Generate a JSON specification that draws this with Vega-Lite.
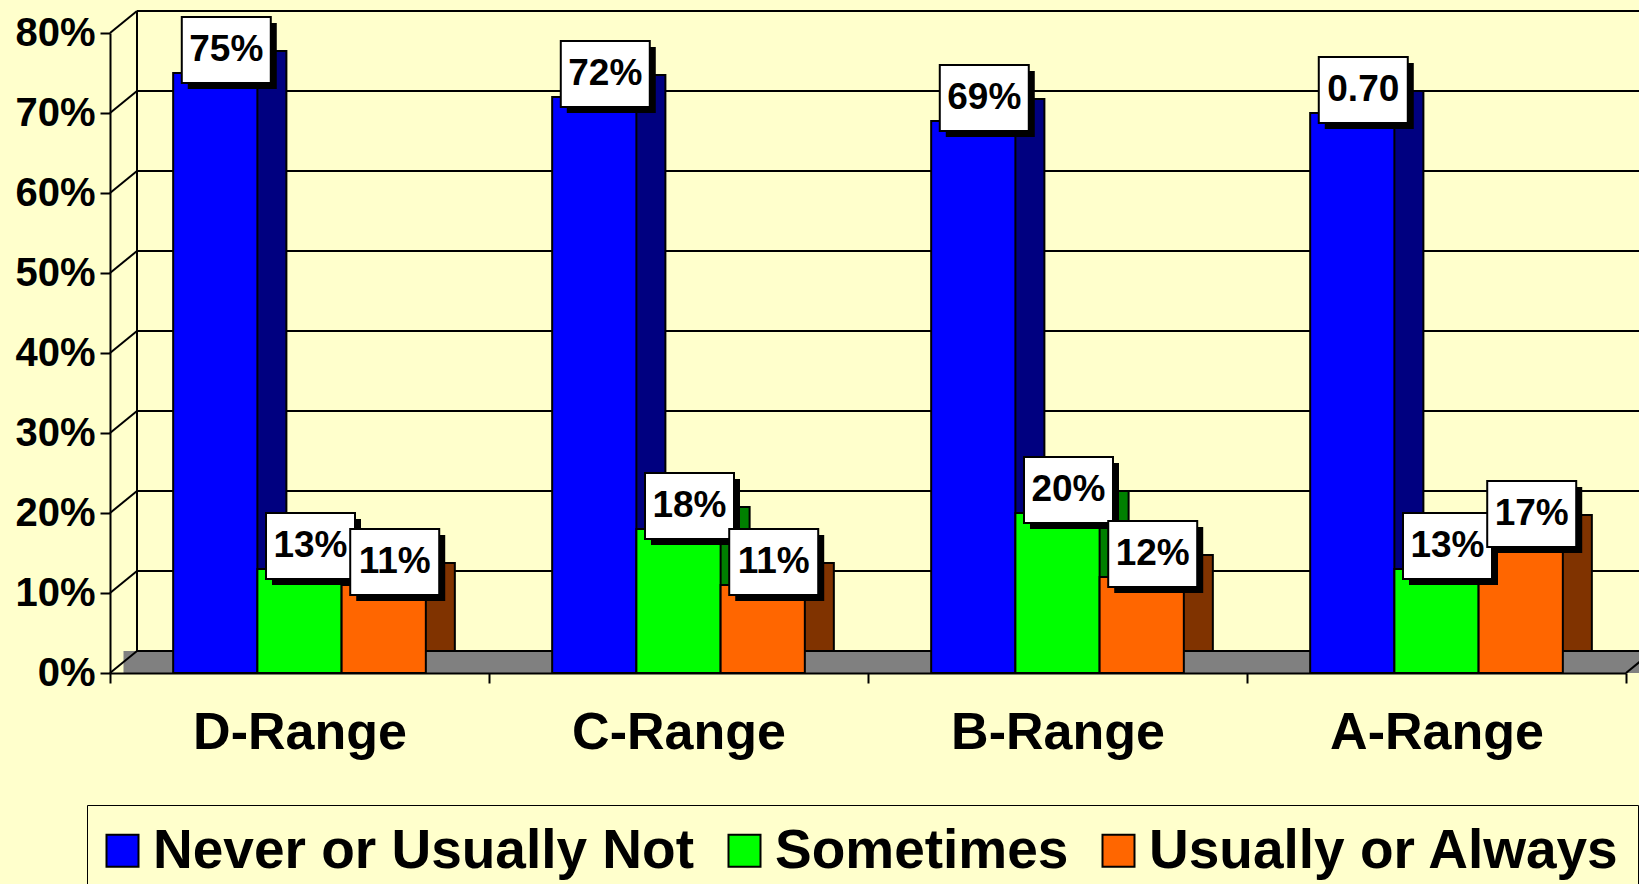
{
  "$schema": "https://vega.github.io/schema/vega-lite/v6.json",
  "width": 1516,
  "height": 640,
  "autosize": {"type": "none"},
  "padding": {"left": 110, "top": 33, "right": 13, "bottom": 211},
  "background": "#FFFFCC",
  "config": {
    "view": {"stroke": null},
    "font": "Liberation Sans",
    "axisY": {
      "title": null,
      "grid": false,
      "labelFont": "Liberation Sans",
      "labelFontWeight": "bold",
      "labelFontSize": 40,
      "labelColor": "black",
      "labelPadding": 5,
      "tickSize": 10,
      "tickWidth": 2,
      "tickColor": "black",
      "domainColor": "black",
      "domainWidth": 2,
      "zindex": 1
    },
    "legend": {
      "orient": "none",
      "legendX": -23,
      "legendY": 772,
      "direction": "horizontal",
      "labelFont": "Liberation Sans",
      "labelFontWeight": "bold",
      "labelFontSize": 55,
      "labelColor": "black",
      "labelLimit": 1000,
      "labelOffset": 3,
      "symbolOffset": -10,
      "columnPadding": 29,
      "padding": 18,
      "symbolType": "square",
      "symbolSize": 1024,
      "symbolStrokeColor": "black",
      "symbolStrokeWidth": 2,
      "symbolOpacity": 1,
      "fillColor": "#FFFFCC",
      "strokeColor": "black"
    }
  },
  "datasets": {
    "bars": [
      {"range": "D-Range", "series": "Never or Usually Not", "value": 0.75, "label": "75%"},
      {"range": "D-Range", "series": "Sometimes", "value": 0.13, "label": "13%"},
      {"range": "D-Range", "series": "Usually or Always", "value": 0.11, "label": "11%"},
      {"range": "C-Range", "series": "Never or Usually Not", "value": 0.72, "label": "72%"},
      {"range": "C-Range", "series": "Sometimes", "value": 0.18, "label": "18%"},
      {"range": "C-Range", "series": "Usually or Always", "value": 0.11, "label": "11%"},
      {"range": "B-Range", "series": "Never or Usually Not", "value": 0.69, "label": "69%"},
      {"range": "B-Range", "series": "Sometimes", "value": 0.20, "label": "20%"},
      {"range": "B-Range", "series": "Usually or Always", "value": 0.12, "label": "12%"},
      {"range": "A-Range", "series": "Never or Usually Not", "value": 0.70, "label": "0.70"},
      {"range": "A-Range", "series": "Sometimes", "value": 0.13, "label": "13%"},
      {"range": "A-Range", "series": "Usually or Always", "value": 0.17, "label": "17%"}
    ],
    "grid": [
      {"t": 0}, {"t": 0.1}, {"t": 0.2}, {"t": 0.3}, {"t": 0.4},
      {"t": 0.5}, {"t": 0.6}, {"t": 0.7}, {"t": 0.8}
    ]
  },
  "resolve": {"scale": {"x": "independent"}},
  "layer": [
    {
      "data": {"name": "grid"},
      "layer": [
        {
          "transform": [{"filter": "datum.t == 0"}],
          "mark": {"type": "rect", "fill": "#808080", "xOffset": 13.5, "x2Offset": 13.5, "y2Offset": -22},
          "encoding": {
            "x": {"datum": 0, "type": "quantitative", "scale": {"domain": [0, 1]}, "axis": null},
            "x2": {"datum": 1},
            "y": {"datum": 0, "type": "quantitative", "scale": {"domain": [0, 0.8]}, "axis": {"values": [0, 0.1, 0.2, 0.3, 0.4, 0.5, 0.6, 0.7, 0.8], "format": ".0%"}},
            "y2": {"datum": 0}
          }
        },
        {
          "transform": [{"filter": "datum.t == 0"}],
          "mark": {"type": "rule", "color": "black", "strokeWidth": 2, "x2Offset": 27, "y2Offset": -22},
          "encoding": {
            "x": {"datum": 1, "type": "quantitative", "scale": {"domain": [0, 1]}, "axis": null},
            "x2": {"datum": 1},
            "y": {"datum": 0, "type": "quantitative", "scale": {"domain": [0, 0.8]}, "axis": {"values": [0, 0.1, 0.2, 0.3, 0.4, 0.5, 0.6, 0.7, 0.8], "format": ".0%"}},
            "y2": {"datum": 0}
          }
        },
        {
          "mark": {"type": "rule", "color": "black", "strokeWidth": 2, "xOffset": 27, "x2Offset": 27, "yOffset": -22},
          "encoding": {
            "x": {"datum": 0, "type": "quantitative", "scale": {"domain": [0, 1]}, "axis": null},
            "x2": {"datum": 1},
            "y": {"field": "t", "type": "quantitative", "scale": {"domain": [0, 0.8]}, "axis": {"values": [0, 0.1, 0.2, 0.3, 0.4, 0.5, 0.6, 0.7, 0.8], "format": ".0%"}}
          }
        },
        {
          "mark": {"type": "rule", "color": "black", "strokeWidth": 2, "x2Offset": 27, "y2Offset": -22},
          "encoding": {
            "x": {"datum": 0, "type": "quantitative", "scale": {"domain": [0, 1]}, "axis": null},
            "x2": {"datum": 0},
            "y": {"field": "t", "type": "quantitative", "scale": {"domain": [0, 0.8]}, "axis": {"values": [0, 0.1, 0.2, 0.3, 0.4, 0.5, 0.6, 0.7, 0.8], "format": ".0%"}},
            "y2": {"field": "t"}
          }
        },
        {
          "transform": [{"filter": "datum.t == 0"}],
          "mark": {"type": "rule", "color": "black", "strokeWidth": 2, "xOffset": 27, "yOffset": -22, "y2Offset": -22},
          "encoding": {
            "x": {"datum": 0, "type": "quantitative", "scale": {"domain": [0, 1]}, "axis": null},
            "y": {"datum": 0, "type": "quantitative", "scale": {"domain": [0, 0.8]}, "axis": {"values": [0, 0.1, 0.2, 0.3, 0.4, 0.5, 0.6, 0.7, 0.8], "format": ".0%"}},
            "y2": {"datum": 0.8}
          }
        }
      ]
    },
    {
      "data": {"name": "bars"},
      "resolve": {"scale": {"xOffset": "independent"}},
      "encoding": {
        "x": {
          "field": "range",
          "type": "nominal",
          "sort": ["D-Range", "C-Range", "B-Range", "A-Range"],
          "scale": {"paddingInner": 0, "paddingOuter": 0},
          "axis": {
            "title": null,
            "labelAngle": 0,
            "labelFont": "Liberation Sans",
            "labelFontWeight": "bold",
            "labelFontSize": 52,
            "labelColor": "black",
            "labelBaseline": "alphabetic",
            "labelPadding": 65,
            "labelOverlap": false,
            "labelLimit": 1000,
            "tickBand": "extent",
            "tickSize": 10,
            "tickWidth": 2,
            "tickColor": "black",
            "domainColor": "black",
            "domainWidth": 2,
            "grid": false,
            "zindex": 1
          }
        },
        "y": {
          "field": "value",
          "type": "quantitative",
          "scale": {"domain": [0, 0.8]},
          "axis": {"values": [0, 0.1, 0.2, 0.3, 0.4, 0.5, 0.6, 0.7, 0.8], "format": ".0%"}
        }
      },
      "layer": [
        {
          "mark": {"type": "bar", "stroke": "black", "strokeWidth": 2, "yOffset": -22, "y2Offset": -22},
          "encoding": {
            "xOffset": {"field": "series", "sort": ["Never or Usually Not", "Sometimes", "Usually or Always"], "scale": {"range": [92.17, 344.84], "paddingInner": 0, "paddingOuter": 0}},
            "fill": {"field": "series", "sort": ["Never or Usually Not", "Sometimes", "Usually or Always"], "scale": {"range": ["#000080", "#008000", "#803300"]}, "legend": null}
          }
        },
        {
          "mark": {"type": "bar", "stroke": "black", "strokeWidth": 2, "yOffset": -22},
          "encoding": {
            "xOffset": {"field": "series", "sort": ["Never or Usually Not", "Sometimes", "Usually or Always"], "scale": {"range": [77.67, 330.34], "paddingInner": 0, "paddingOuter": 0}},
            "y2": {"field": "value"},
            "color": {
              "field": "series",
              "scale": {"domain": ["Never or Usually Not", "Sometimes", "Usually or Always"], "range": ["#0000FF", "#00FF00", "#FF6600"]},
              "legend": {"title": null}
            }
          }
        },
        {
          "mark": {"type": "bar", "stroke": "black", "strokeWidth": 2},
          "encoding": {
            "xOffset": {"field": "series", "sort": ["Never or Usually Not", "Sometimes", "Usually or Always"], "scale": {"range": [63.17, 315.84], "paddingInner": 0, "paddingOuter": 0}},
            "color": {
              "field": "series",
              "scale": {"domain": ["Never or Usually Not", "Sometimes", "Usually or Always"], "range": ["#0000FF", "#00FF00", "#FF6600"]},
              "legend": {"title": null}
            }
          }
        },
        {
          "mark": {"type": "point", "shape": "M-1,-0.7416L1,-0.7416L1,0.7416L-1,0.7416Z", "size": 7921, "filled": true, "fill": "black", "strokeWidth": 0, "opacity": 1, "yOffset": -17},
          "encoding": {
            "xOffset": {"field": "series", "sort": ["Never or Usually Not", "Sometimes", "Usually or Always"], "scale": {"type": "point", "range": [122.28, 290.72], "padding": 0}}
          }
        },
        {
          "mark": {"type": "point", "shape": "M-1,-0.7416L1,-0.7416L1,0.7416L-1,0.7416Z", "size": 7921, "filled": true, "fill": "white", "stroke": "black", "strokeWidth": 2, "opacity": 1, "yOffset": -23},
          "encoding": {
            "xOffset": {"field": "series", "sort": ["Never or Usually Not", "Sometimes", "Usually or Always"], "scale": {"type": "point", "range": [116.28, 284.72], "padding": 0}}
          }
        },
        {
          "mark": {"type": "text", "font": "Liberation Sans", "fontWeight": "bold", "fontSize": 37, "color": "black", "align": "center", "baseline": "middle", "yOffset": -23},
          "encoding": {
            "xOffset": {"field": "series", "sort": ["Never or Usually Not", "Sometimes", "Usually or Always"], "scale": {"type": "point", "range": [116.28, 284.72], "padding": 0}},
            "text": {"field": "label"}
          }
        }
      ]
    }
  ]
}
